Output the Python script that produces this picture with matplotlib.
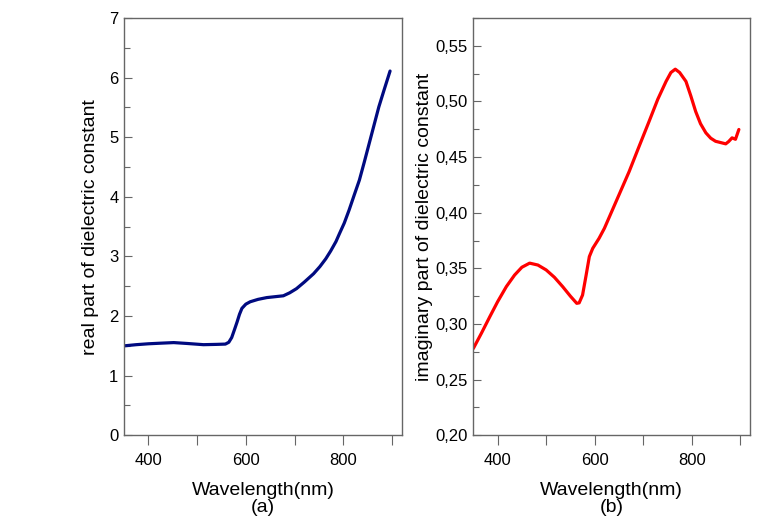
# Real and imaginary part of the dielectric constant vs wavelength, panels (a) and (b).
import matplotlib
matplotlib.use("Agg")
import matplotlib.pyplot as plt
from matplotlib.ticker import MultipleLocator, FuncFormatter

plt.rcParams['font.family'] = ['Liberation Sans', 'DejaVu Sans']

# (a) real part
wl_real = [350, 375, 400, 425, 452, 480, 513, 540, 558, 565, 571, 577, 582, 587, 592, 600,
           609, 625, 643, 660, 677, 690, 704, 720, 739, 752, 764, 774, 785, 792, 802, 812,
           822, 833, 843, 853, 863, 873, 884, 896]
eps_real = [1.50, 1.52, 1.535, 1.545, 1.555, 1.54, 1.52, 1.525, 1.53, 1.56, 1.64, 1.78, 1.90,
            2.03, 2.13, 2.20, 2.24, 2.28, 2.31, 2.325, 2.34, 2.39, 2.46, 2.57, 2.71, 2.83,
            2.96, 3.09, 3.25, 3.38, 3.56, 3.78, 4.02, 4.28, 4.58, 4.89, 5.20, 5.51, 5.80, 6.11]

# (b) imaginary part
wl_imag = [350, 367, 384, 400, 418, 435, 450, 466, 483, 500, 517, 534, 550, 563, 568, 575,
           582, 589, 596, 609, 620, 630, 650, 671, 690, 712, 730, 747, 757, 766, 775, 788,
           798, 808, 818, 829, 839, 849, 860, 870, 876, 883, 890, 897]
eps_imag = [0.278, 0.292, 0.3066, 0.320, 0.3336, 0.344, 0.351, 0.3547, 0.353, 0.3486, 0.342,
            0.3336, 0.325, 0.3186, 0.319, 0.326, 0.343, 0.3606, 0.368, 0.377, 0.386, 0.396,
            0.416, 0.437, 0.458, 0.482, 0.502, 0.518, 0.526, 0.529, 0.526, 0.518, 0.505,
            0.491, 0.480, 0.4718, 0.467, 0.4642, 0.463, 0.4619, 0.464, 0.4673, 0.466, 0.4748]

x_ticks = [400, 600, 800]
real_ticks = [0, 1, 2, 3, 4, 5, 6, 7]
imag_ticks = [0.20, 0.25, 0.30, 0.35, 0.40, 0.45, 0.50, 0.55]

spine_col = "#666666"
fs_tick = 12
fs_lab = 14

fig = plt.figure(figsize=(7.83, 5.2), dpi=100)
ax1 = fig.add_axes([0.1584, 0.1629, 0.3547, 0.8025])
ax2 = fig.add_axes([0.6045, 0.1629, 0.3534, 0.8025])


def style(ax):
    for s in ax.spines.values():
        s.set_color(spine_col)
        s.set_linewidth(1.0)
    ax.set_xlim(350, 920)
    ax.set_xticks(x_ticks)
    ax.xaxis.set_minor_locator(MultipleLocator(100))
    ax.tick_params(axis='x', which='both', direction='out', length=7, width=0.8,
                   color=spine_col, labelsize=fs_tick, pad=6)
    ax.tick_params(axis='y', which='major', direction='in', length=6, width=0.8,
                   color=spine_col, labelsize=fs_tick, pad=4)
    ax.tick_params(axis='y', which='minor', direction='in', length=4, width=0.8,
                   color=spine_col)
    ax.tick_params(top=False, right=False, which='both')


ax1.plot(wl_real, eps_real, color="#000a80", lw=2.3, solid_capstyle='round')
style(ax1)
ax1.set_ylim(0, 7)
ax1.set_yticks(real_ticks)
ax1.yaxis.set_minor_locator(MultipleLocator(0.5))
ax1.set_ylabel("real part of dielectric constant", fontsize=fs_lab, labelpad=7)
ax1.set_xlabel("Wavelength(nm)\n(a)", fontsize=fs_lab, linespacing=0.95, labelpad=10)

ax2.plot(wl_imag, eps_imag, color="#ff0000", lw=2.3, solid_capstyle='round')
style(ax2)
ax2.set_ylim(0.2, 0.575)
ax2.set_yticks(imag_ticks)
ax2.yaxis.set_minor_locator(MultipleLocator(0.025))
ax2.yaxis.set_major_formatter(FuncFormatter(lambda v, p: ("%.2f" % v).replace('.', ',')))
ax2.set_ylabel("imaginary part of dielectric constant", fontsize=fs_lab, labelpad=2)
ax2.set_xlabel("Wavelength(nm)\n(b)", fontsize=fs_lab, linespacing=0.95, labelpad=10)

fig.savefig("out.png", dpi=100)
